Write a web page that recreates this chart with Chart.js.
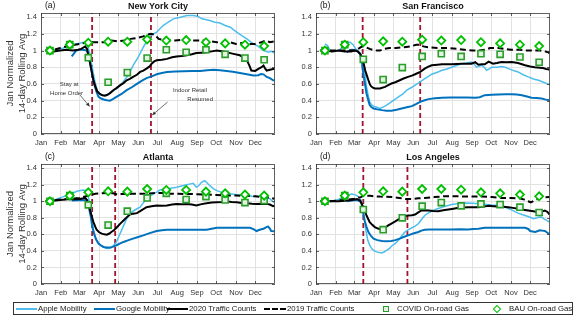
<!DOCTYPE html>
<html><head><meta charset="utf-8">
<script src="https://cdn.jsdelivr.net/npm/chart.js@4.4.1/dist/chart.umd.min.js"></script>
<style>
html,body{margin:0;padding:0;background:#fff;}
body{width:575px;height:316px;overflow:hidden;position:relative;font-family:'Liberation Sans',Arial,sans-serif;}
canvas{position:absolute;}
#legend{position:absolute;left:13px;top:302px;width:560px;height:13px;border:1px solid #333;box-sizing:border-box;font-size:7.8px;color:#1a1a1a;}
.li{position:absolute;top:0;height:11px;line-height:11px;white-space:nowrap;display:flex;align-items:center;}
.ln{display:inline-block;width:21px;height:0;margin-right:1px;}
.sq{display:inline-block;width:4px;height:4px;border:1.5px solid #2a9d2a;background:#e3f4e3;margin:0 8px 0 3px;}
.dm{display:inline-block;width:4px;height:4px;border:1.6px solid #00c000;background:#fff;transform:rotate(45deg);margin:0 9px 0 3px;}
</style></head>
<body>
<canvas id="ca" width="287" height="152" style="left:0;top:0;width:287px;height:152px"></canvas>
<canvas id="cb" width="288" height="152" style="left:287px;top:0;width:288px;height:152px"></canvas>
<canvas id="cc" width="287" height="152" style="left:0;top:150px;width:287px;height:152px"></canvas>
<canvas id="cd" width="288" height="152" style="left:287px;top:150px;width:288px;height:152px"></canvas>
<div id="legend">
  <div class="li" style="left:2px"><span class="ln" style="border-top:2px solid #4DBEEE"></span>Apple Mobility</div>
  <div class="li" style="left:80px"><span class="ln" style="border-top:2px solid #0072BD"></span>Google Mobility</div>
  <div class="li" style="left:153px"><span class="ln" style="border-top:2px solid #000"></span>2020 Traffic Counts</div>
  <div class="li" style="left:250px"><span class="ln" style="border-top:2px dashed #000;width:22px"></span>2019 Traffic Counts</div>
  <div class="li" style="left:366px"><span class="sq"></span>COVID On-road Gas</div>
  <div class="li" style="left:477px"><span class="dm"></span>BAU On-road Gas</div>
</div>
<script>
// ---------- DATA ----------
const MONTHS = ['Jan','Feb','Mar','Apr','May','Jun','Jul','Aug','Sep','Oct','Nov','Dec'];
const MONTH_START = [0,31,60,91,121,152,182,213,244,274,305,335];
const Y_TICKS = [0,0.2,0.4,0.6,0.8,1,1.2,1.4];
const Y_TICK_LABELS = ['0','0.2','0.4','0.6','0.8','1','1.2','1.4'];
const MARKER_DAYS = [14,45,74,105,135,166,196,227,258,288,319,349];

// New York City
const NYC_APPLE = [[14,1.00],[25,1.01],[35,1.03],[45,1.06],[55,1.08],[62,1.09],[68,1.10],[72,1.09],[76,0.97],[80,0.80],[84,0.64],[88,0.52],[93,0.47],[98,0.465],[103,0.47],[112,0.51],[121,0.56],[128,0.62],[134,0.68],[140,0.76],[144,0.82],[152,0.92],[160,1.04],[166,1.12],[171,1.18],[176,1.20],[181,1.22],[186,1.26],[191,1.30],[199,1.34],[207,1.38],[218,1.40],[228,1.42],[238,1.42],[245,1.41],[252,1.38],[264,1.36],[272,1.34],[280,1.33],[288,1.30],[296,1.28],[306,1.22],[314,1.18],[322,1.14],[332,1.08],[340,1.05],[348,1.00],[352,0.99],[356,0.98],[360,0.99],[365,0.97]];
const NYC_GOOGLE = [[48,0.93],[52,0.97],[55,1.00],[60,1.01],[65,1.01],[72,1.00],[75,0.92],[78,0.80],[83,0.60],[87,0.50],[90,0.445],[94,0.425],[98,0.414],[103,0.405],[108,0.40],[113,0.42],[118,0.445],[126,0.48],[134,0.525],[142,0.56],[150,0.60],[158,0.64],[165,0.67],[173,0.69],[181,0.716],[189,0.73],[197,0.744],[210,0.75],[223,0.752],[236,0.755],[249,0.756],[260,0.765],[270,0.77],[280,0.765],[290,0.756],[300,0.745],[311,0.73],[322,0.715],[332,0.70],[340,0.705],[344,0.72],[348,0.715],[353,0.684],[358,0.67],[363,0.644],[365,0.645]];
const NYC_2020 = [[7,1.00],[14,1.00],[20,0.99],[30,1.00],[40,1.01],[50,1.00],[58,1.01],[63,1.02],[67,1.04],[69,1.05],[72,1.02],[74,0.95],[77,0.84],[80,0.72],[82,0.64],[85,0.57],[88,0.51],[92,0.48],[96,0.465],[100,0.46],[104,0.47],[108,0.49],[113,0.525],[118,0.55],[124,0.585],[129,0.61],[134,0.644],[139,0.66],[144,0.684],[150,0.71],[155,0.744],[160,0.76],[165,0.784],[170,0.81],[173,0.843],[177,0.87],[181,0.883],[189,0.89],[197,0.90],[205,0.92],[212,0.93],[220,0.935],[228,0.943],[236,0.955],[243,0.97],[251,0.975],[259,0.98],[267,0.99],[275,1.00],[280,0.995],[285,0.99],[293,0.975],[301,0.96],[311,0.943],[316,0.92],[322,0.883],[326,0.82],[329,0.76],[335,0.756],[340,0.78],[342,0.79],[345,0.80],[348,0.82],[351,0.78],[353,0.76],[358,0.77],[363,0.78],[365,0.78]];
const NYC_2019 = [[7,1.00],[20,1.01],[30,1.03],[45,1.06],[60,1.08],[75,1.10],[90,1.10],[100,1.10],[110,1.12],[120,1.11],[130,1.12],[140,1.14],[150,1.15],[160,1.17],[166,1.19],[172,1.20],[178,1.19],[184,1.14],[195,1.12],[210,1.12],[225,1.13],[240,1.12],[255,1.12],[265,1.11],[275,1.10],[285,1.09],[295,1.10],[305,1.08],[315,1.09],[325,1.08],[335,1.08],[345,1.10],[352,1.12],[358,1.10],[365,1.11]];
const NYC_COVID = [1.00,1.07,0.915,0.62,0.736,0.91,1.01,0.98,1.01,0.955,0.91,0.89];
const NYC_BAU = [1.00,1.07,1.094,1.106,1.106,1.134,1.12,1.126,1.10,1.086,1.07,1.054];
const NYC_EVENTS = [80,172];

// San Francisco
const SF_APPLE = [[14,1.08],[18,1.06],[22,1.00],[28,0.99],[35,1.00],[42,1.04],[48,1.08],[53,1.10],[58,1.07],[64,1.00],[69,0.97],[72,0.92],[74,0.84],[77,0.70],[79,0.565],[82,0.45],[84,0.386],[87,0.35],[90,0.334],[95,0.32],[100,0.306],[108,0.334],[118,0.386],[129,0.445],[136,0.48],[142,0.525],[150,0.56],[155,0.585],[163,0.625],[170,0.664],[176,0.69],[181,0.716],[190,0.74],[197,0.764],[205,0.78],[212,0.80],[220,0.82],[228,0.843],[236,0.85],[243,0.863],[247,0.84],[251,0.80],[255,0.81],[259,0.823],[263,0.80],[267,0.764],[271,0.78],[275,0.80],[283,0.80],[290,0.81],[296,0.80],[301,0.784],[309,0.76],[316,0.744],[324,0.71],[332,0.684],[340,0.66],[348,0.644],[356,0.62],[363,0.597],[365,0.60]];
const SF_GOOGLE = [[48,0.98],[52,1.00],[56,1.01],[64,1.00],[69,0.96],[72,0.85],[74,0.72],[77,0.58],[79,0.485],[82,0.40],[84,0.346],[87,0.32],[90,0.306],[96,0.295],[103,0.286],[110,0.28],[118,0.278],[126,0.29],[134,0.306],[142,0.32],[150,0.334],[157,0.36],[163,0.386],[170,0.405],[176,0.418],[186,0.428],[197,0.434],[210,0.436],[223,0.438],[236,0.436],[249,0.434],[256,0.44],[264,0.465],[275,0.47],[285,0.473],[296,0.476],[306,0.477],[314,0.472],[322,0.465],[330,0.45],[337,0.434],[345,0.43],[353,0.426],[358,0.415],[363,0.406],[365,0.405]];
const SF_2020 = [[7,1.00],[14,1.00],[25,0.99],[35,1.00],[45,0.99],[55,0.99],[60,1.00],[65,0.99],[69,0.96],[73,0.90],[75,0.83],[77,0.76],[80,0.69],[82,0.644],[84,0.60],[86,0.573],[89,0.555],[92,0.545],[100,0.545],[108,0.565],[113,0.585],[118,0.605],[124,0.62],[131,0.644],[137,0.665],[144,0.684],[150,0.70],[155,0.716],[163,0.744],[170,0.784],[175,0.805],[181,0.823],[190,0.83],[197,0.835],[205,0.835],[212,0.835],[220,0.84],[228,0.843],[236,0.843],[243,0.843],[249,0.86],[254,0.83],[259,0.835],[264,0.835],[270,0.867],[277,0.843],[283,0.85],[290,0.863],[298,0.86],[306,0.863],[316,0.85],[327,0.823],[335,0.81],[342,0.80],[350,0.795],[355,0.79],[360,0.78],[363,0.775],[365,0.77]];
const SF_2019 = [[7,1.00],[20,1.00],[35,1.00],[50,1.00],[60,1.00],[68,1.03],[72,1.05],[78,1.04],[84,1.02],[88,1.01],[95,1.00],[100,1.00],[106,1.02],[115,1.03],[125,1.03],[138,1.04],[148,1.05],[157,1.07],[163,1.07],[168,1.05],[175,1.04],[190,1.03],[205,1.03],[220,1.02],[232,1.01],[245,1.00],[255,1.00],[265,1.01],[272,1.03],[285,1.03],[295,1.02],[305,1.01],[318,1.01],[328,1.00],[340,1.00],[350,1.00],[358,0.99],[363,0.98],[365,0.97]];
const SF_COVID = [1.00,1.07,0.895,0.652,0.796,0.93,0.963,0.93,0.963,0.955,0.923,0.86];
const SF_BAU = [1.00,1.07,1.10,1.11,1.106,1.13,1.12,1.126,1.10,1.086,1.07,1.054];
const SF_EVENTS = [73,163];

// Atlanta
const ATL_APPLE = [[14,1.00],[20,1.01],[25,1.028],[33,1.05],[40,1.068],[48,1.09],[56,1.12],[62,1.13],[66,1.136],[70,1.13],[72,1.108],[75,1.02],[77,0.928],[80,0.78],[82,0.648],[85,0.57],[87,0.528],[91,0.48],[95,0.456],[99,0.44],[103,0.428],[107,0.432],[110,0.44],[114,0.47],[118,0.508],[122,0.58],[126,0.648],[130,0.72],[134,0.788],[138,0.83],[142,0.868],[148,0.90],[155,0.928],[160,0.98],[165,1.028],[170,1.06],[176,1.088],[181,1.11],[186,1.136],[197,1.148],[205,1.16],[212,1.168],[220,1.185],[228,1.20],[234,1.21],[238,1.216],[243,1.168],[247,1.19],[251,1.228],[256,1.248],[260,1.22],[264,1.188],[270,1.15],[275,1.128],[282,1.11],[290,1.096],[298,1.088],[306,1.08],[314,1.072],[322,1.068],[330,1.06],[337,1.056],[344,1.06],[350,1.068],[354,1.05],[358,1.028],[362,1.00],[365,0.988]];
const ATL_GOOGLE = [[48,1.008],[55,1.012],[61,1.016],[68,1.012],[72,1.008],[75,0.92],[78,0.808],[80,0.70],[83,0.608],[86,0.54],[90,0.488],[94,0.465],[98,0.448],[103,0.442],[108,0.44],[113,0.452],[118,0.468],[124,0.49],[129,0.508],[137,0.53],[144,0.548],[152,0.568],[160,0.588],[170,0.615],[181,0.64],[189,0.65],[197,0.656],[212,0.655],[228,0.656],[244,0.655],[259,0.656],[267,0.668],[275,0.68],[288,0.68],[301,0.68],[314,0.68],[327,0.68],[333,0.66],[337,0.64],[342,0.655],[348,0.668],[352,0.685],[355,0.696],[358,0.67],[360,0.64],[365,0.636]];
const ATL_2020 = [[7,1.00],[15,1.00],[22,1.01],[30,1.016],[38,1.02],[45,1.028],[53,1.025],[61,1.028],[66,1.035],[69,1.04],[72,1.016],[75,0.95],[77,0.888],[80,0.80],[82,0.748],[85,0.69],[87,0.656],[91,0.625],[95,0.608],[99,0.60],[103,0.596],[107,0.61],[110,0.628],[114,0.65],[118,0.68],[124,0.73],[129,0.768],[134,0.805],[139,0.84],[144,0.85],[150,0.856],[157,0.89],[165,0.928],[173,0.94],[181,0.948],[189,0.945],[197,0.948],[205,0.96],[212,0.968],[220,0.965],[228,0.968],[236,0.96],[243,0.948],[251,0.965],[259,0.976],[267,0.985],[275,0.988],[283,0.99],[290,1.00],[298,0.99],[306,0.988],[314,0.98],[322,0.976],[330,0.97],[337,0.968],[345,0.97],[353,0.968],[358,0.96],[363,0.94],[365,0.945]];
const ATL_2019 = [[7,1.00],[20,1.01],[30,1.02],[45,1.03],[60,1.04],[75,1.07],[85,1.09],[95,1.096],[105,1.10],[113,1.096],[120,1.08],[128,1.09],[135,1.085],[142,1.09],[150,1.09],[160,1.09],[170,1.095],[180,1.10],[190,1.10],[200,1.09],[215,1.09],[230,1.088],[245,1.085],[260,1.08],[275,1.075],[290,1.07],[305,1.07],[320,1.065],[335,1.06],[345,1.05],[355,1.045],[365,1.03]];
const ATL_COVID = [1.00,1.068,0.956,0.712,0.88,1.04,1.096,1.02,1.056,1.016,0.984,1.008];
const ATL_BAU = [1.00,1.068,1.108,1.12,1.116,1.148,1.136,1.136,1.116,1.096,1.08,1.068];
const ATL_EVENTS = [80,116];

// Los Angeles
const LA_APPLE = [[14,1.00],[25,1.00],[35,1.02],[45,1.068],[52,1.08],[56,1.088],[60,1.08],[64,1.068],[68,1.04],[71,1.008],[73,0.90],[76,0.768],[78,0.65],[81,0.528],[84,0.47],[87,0.428],[91,0.40],[95,0.388],[99,0.38],[103,0.376],[107,0.39],[111,0.408],[115,0.43],[118,0.456],[124,0.49],[129,0.528],[134,0.58],[139,0.628],[144,0.655],[150,0.68],[155,0.70],[160,0.728],[165,0.78],[170,0.828],[176,0.86],[183,0.888],[190,0.91],[197,0.928],[205,0.945],[212,0.96],[220,0.97],[228,0.976],[236,0.978],[243,0.976],[251,0.972],[259,0.968],[267,0.962],[275,0.956],[283,0.952],[290,0.948],[298,0.92],[306,0.896],[311,0.875],[316,0.856],[322,0.84],[327,0.828],[334,0.81],[340,0.788],[346,0.80],[350,0.81],[353,0.808],[357,0.785],[361,0.768],[365,0.748]];
const LA_GOOGLE = [[48,1.00],[56,1.01],[64,1.016],[71,0.988],[73,0.90],[76,0.768],[79,0.69],[82,0.628],[86,0.58],[90,0.548],[96,0.53],[103,0.52],[110,0.518],[118,0.52],[124,0.53],[131,0.548],[137,0.568],[144,0.588],[152,0.61],[160,0.628],[165,0.645],[170,0.656],[178,0.66],[186,0.66],[199,0.66],[212,0.66],[225,0.662],[238,0.66],[246,0.664],[254,0.668],[264,0.68],[277,0.68],[290,0.68],[303,0.68],[316,0.68],[327,0.68],[332,0.665],[335,0.64],[343,0.628],[347,0.64],[350,0.648],[354,0.645],[358,0.64],[362,0.62],[365,0.60]];
const LA_2020 = [[7,1.00],[15,1.00],[25,1.00],[35,1.00],[45,1.005],[56,1.016],[64,1.028],[69,1.008],[72,0.96],[74,0.928],[77,0.87],[79,0.828],[82,0.78],[84,0.748],[88,0.715],[92,0.688],[97,0.67],[103,0.656],[108,0.68],[113,0.708],[118,0.73],[124,0.756],[129,0.78],[134,0.808],[139,0.82],[144,0.828],[150,0.832],[155,0.84],[160,0.865],[165,0.888],[170,0.89],[176,0.888],[183,0.882],[191,0.88],[199,0.89],[207,0.90],[215,0.91],[223,0.92],[230,0.925],[238,0.928],[246,0.928],[254,0.928],[262,0.935],[270,0.944],[277,0.94],[285,0.936],[293,0.932],[301,0.928],[308,0.92],[316,0.908],[324,0.898],[332,0.888],[340,0.878],[348,0.868],[353,0.875],[358,0.888],[362,0.87],[365,0.84]];
const LA_2019 = [[7,1.00],[20,1.00],[35,1.01],[50,1.02],[60,1.03],[70,1.05],[75,1.068],[85,1.065],[92,1.06],[100,1.056],[110,1.055],[120,1.05],[130,1.04],[140,1.028],[150,1.028],[160,1.035],[170,1.04],[185,1.05],[200,1.06],[215,1.06],[230,1.058],[245,1.056],[260,1.056],[275,1.05],[290,1.04],[305,1.04],[318,1.035],[326,1.02],[332,1.00],[336,0.985],[342,1.01],[350,1.04],[358,1.048],[365,1.05]];
const LA_COVID = [1.00,1.068,0.90,0.656,0.80,0.94,0.984,0.944,0.968,0.96,0.928,0.864];
const LA_BAU = [1.00,1.068,1.108,1.12,1.116,1.148,1.148,1.14,1.108,1.096,1.08,1.06];
const LA_EVENTS = [74,143];

// ---------- RENDER ----------
const FONT = "'Liberation Sans', Arial, sans-serif";
Chart.defaults.font.family = FONT;
Chart.defaults.color = '#333';

const toXY = arr => arr.map(p => ({x: p[0], y: p[1]}));
const markers = vals => vals.map((v, i) => ({x: MARKER_DAYS[i], y: v}));
const Y_MAX = 1.45;

const framePlugin = {
  id: 'frame',
  afterDatasetsDraw(chart, args, o) {
    const {ctx, chartArea: a, scales: {x, y}} = chart;
    ctx.save();
    ctx.strokeStyle = '#3a3a3a';
    ctx.lineWidth = 0.8;
    ctx.strokeRect(a.left + 0.5, a.top + 0.5, a.right - a.left - 1, a.bottom - a.top - 1);
    ctx.beginPath();
    x.ticks.forEach(t => {
      const px = Math.round(x.getPixelForValue(t.value)) + 0.5;
      ctx.moveTo(px, a.bottom); ctx.lineTo(px, a.bottom - 3);
      ctx.moveTo(px, a.top); ctx.lineTo(px, a.top + 3);
    });
    y.ticks.forEach(t => {
      const py = Math.round(y.getPixelForValue(t.value)) + 0.5;
      ctx.moveTo(a.left, py); ctx.lineTo(a.left + 3, py);
      ctx.moveTo(a.right, py); ctx.lineTo(a.right - 3, py);
    });
    ctx.stroke();
    ctx.fillStyle = '#111';
    ctx.textBaseline = 'middle';
    ctx.textAlign = 'center';
    ctx.font = 'bold 9px ' + FONT;
    ctx.fillText(o.title, (a.left + a.right) / 2, a.top - 6);
    ctx.textAlign = 'left';
    ctx.font = '8.5px ' + FONT;
    ctx.fillText(o.tag, a.left + 4, a.top - 7);
    if (o.notes) {
      ctx.font = '6px ' + FONT;
      ctx.fillStyle = '#333';
      ctx.textAlign = 'center';
      o.notes.forEach(n => ctx.fillText(n.text, x.getPixelForValue(n.at[0]), y.getPixelForValue(n.at[1])));
      ctx.strokeStyle = '#333';
      ctx.lineWidth = 0.7;
      o.arrows.forEach(ar => {
        const x0 = x.getPixelForValue(ar.from[0]), y0 = y.getPixelForValue(ar.from[1]);
        const x1 = x.getPixelForValue(ar.to[0]), y1 = y.getPixelForValue(ar.to[1]);
        ctx.beginPath(); ctx.moveTo(x0, y0); ctx.lineTo(x1, y1); ctx.stroke();
        const ang = Math.atan2(y1 - y0, x1 - x0), L = 4, W = 0.45;
        ctx.beginPath();
        ctx.moveTo(x1, y1);
        ctx.lineTo(x1 - L * Math.cos(ang - W), y1 - L * Math.sin(ang - W));
        ctx.lineTo(x1 - L * Math.cos(ang + W), y1 - L * Math.sin(ang + W));
        ctx.closePath(); ctx.fillStyle = '#333'; ctx.fill();
      });
    }
    ctx.restore();
  }
};

function panel(id, p) {
  const lineDs = (data, color, width, order, dash) => ({
    type: 'line', data: toXY(data), borderColor: color, borderWidth: width,
    pointRadius: 0, tension: 0, order, borderDash: dash || [], fill: false
  });
  const vline = d => ({
    type: 'line', data: [{x: d, y: 0}, {x: d, y: Y_MAX}], borderColor: '#A2142F',
    borderWidth: 1.8, borderDash: [5, 3], pointRadius: 0, order: 7
  });
  const datasets = [
    {type: 'scatter', data: markers(p.bau), pointStyle: 'rectRot', pointRadius: 4,
     borderColor: '#00c000', borderWidth: 1.8, backgroundColor: '#fff', order: 0},
    {type: 'scatter', data: markers(p.covid), pointStyle: 'rect', pointRadius: 4.3,
     borderColor: '#2a9d2a', borderWidth: 1.6, backgroundColor: '#e3f4e3', order: 1},
    lineDs(p.t2020, '#000', 2, 2),
    lineDs(p.t2019, '#000', 2, 3, [6, 3.5]),
    lineDs(p.google, '#0072BD', 2, 4),
    lineDs(p.apple, '#4DBEEE', 1.5, 5),
    ...p.events.map(vline)
  ];
  new Chart(document.getElementById(id), {
    data: {datasets},
    plugins: [framePlugin],
    options: {
      responsive: false, animation: false, devicePixelRatio: 1,
      layout: {padding: {left: 0, right: p.padRight, top: p.padTop, bottom: 0}},
      plugins: {legend: {display: false}, tooltip: {enabled: false},
        frame: {title: p.title, tag: p.tag, notes: p.notes, arrows: p.arrows}},
      scales: {
        x: {type: 'linear', min: 0, max: 366,
          afterBuildTicks: s => { s.ticks = MONTH_START.map(v => ({value: v})); },
          afterFit: s => { s.height = 18; },
          ticks: {callback: (v, i) => MONTHS[i], font: {size: 7.5}, color: '#333', padding: 4,
            maxRotation: 0, autoSkip: false},
          grid: {color: '#e2e2e2', drawTicks: false, lineWidth: 1},
          border: {display: false}},
        y: {type: 'linear', min: 0, max: Y_MAX,
          afterBuildTicks: s => { s.ticks = Y_TICKS.map(v => ({value: v})); },
          afterFit: s => { s.width = p.yWidth; },
          ticks: {callback: (v, i) => Y_TICK_LABELS[i], font: {size: 7.5}, color: '#333', padding: 4},
          grid: {color: '#e2e2e2', drawTicks: false, lineWidth: 1},
          border: {display: false},
          title: p.yTitle ? {display: true, text: ['Jan Normalized', '14-day Rolling Avg'],
            font: {size: 9.5, lineHeight: 1.26}, color: '#333', padding: {top: 4, bottom: 0}} : {display: false}}
      }
    }
  });
}

panel('ca', {title: 'New York City', tag: '(a)', apple: NYC_APPLE, google: NYC_GOOGLE, t2020: NYC_2020, t2019: NYC_2019,
  covid: NYC_COVID, bau: NYC_BAU, events: NYC_EVENTS, yWidth: 41, padRight: 12, padTop: 13, yTitle: true,
  notes: [{text: 'Stay at', at: [44, 0.60]}, {text: 'Home Order', at: [40, 0.49]},
          {text: 'Indoor Retail', at: [233, 0.526]}, {text: 'Resumed', at: [249, 0.42]}],
  arrows: [{from: [61, 0.467], to: [76, 0.33]}, {from: [198, 0.383], to: [174, 0.227]}]});
panel('cb', {title: 'San Francisco', tag: '(b)', apple: SF_APPLE, google: SF_GOOGLE, t2020: SF_2020, t2019: SF_2019,
  covid: SF_COVID, bau: SF_BAU, events: SF_EVENTS, yWidth: 29, padRight: 25, padTop: 13, yTitle: false});
panel('cc', {title: 'Atlanta', tag: '(c)', apple: ATL_APPLE, google: ATL_GOOGLE, t2020: ATL_2020, t2019: ATL_2019,
  covid: ATL_COVID, bau: ATL_BAU, events: ATL_EVENTS, yWidth: 41, padRight: 12, padTop: 14, yTitle: true});
panel('cd', {title: 'Los Angeles', tag: '(d)', apple: LA_APPLE, google: LA_GOOGLE, t2020: LA_2020, t2019: LA_2019,
  covid: LA_COVID, bau: LA_BAU, events: LA_EVENTS, yWidth: 29, padRight: 25, padTop: 14, yTitle: false});
</script>
</body></html>
